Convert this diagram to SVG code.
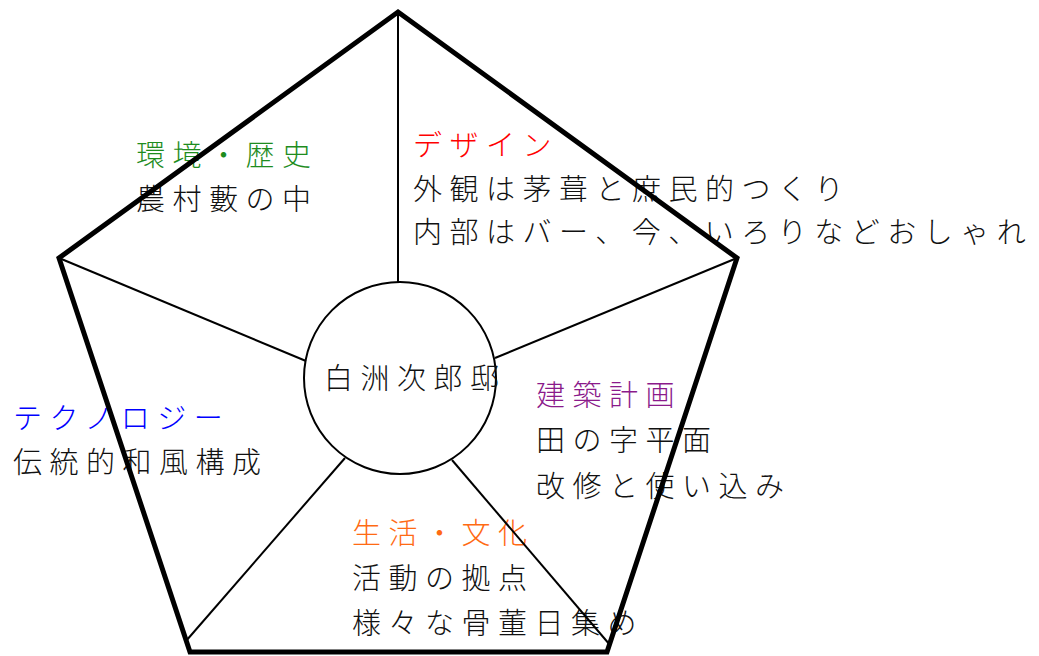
<svg xmlns="http://www.w3.org/2000/svg" width="1039" height="656" viewBox="0 0 1039 656">
<style>
text{font-family:"Noto Sans CJK JP","Noto Sans CJK SC",sans-serif;font-size:29px;font-weight:300;letter-spacing:7.5px;fill:#111}
.thick{fill:none;stroke:#000;stroke-width:5;stroke-linejoin:miter}
.thin{fill:none;stroke:#000;stroke-width:2}
.g{fill:#1e8c1e}.r{fill:#ff0000}.b{fill:#0000ff}.p{fill:#8b1a8b}.o{fill:#ff6a13}
</style>
<rect width="1039" height="656" fill="#fff"/>
<g id="node-center">
<circle cx="400" cy="378" r="96" fill="#fff" stroke="#000" stroke-width="2"/>
<text x="324" y="389">白洲次郎邸</text>
</g>
<g id="node-env">
<text class="g" x="136" y="166">環境・歴史</text>
<text x="136" y="210">農村藪の中</text>
</g>
<g id="node-design">
<text class="r" x="413" y="156">デザイン</text>
<text x="413" y="200">外観は茅葺と庶民的つくり</text>
<text x="413" y="243">内部はバー、今、いろりなどおしゃれ</text>
</g>
<g id="node-tech">
<text class="b" x="13" y="429">テクノロジー</text>
<text x="13" y="473">伝統的和風構成</text>
</g>
<g id="node-arch">
<text class="p" x="536" y="406">建築計画</text>
<text x="536" y="451">田の字平面</text>
<text x="536" y="497">改修と使い込み</text>
</g>
<g id="node-life">
<text class="o" x="352" y="544">生活・文化</text>
<text x="352" y="589">活動の拠点</text>
<text x="352" y="634">様々な骨董日集め</text>
</g>
<g id="connectors">
<line class="thin" x1="398" y1="12" x2="398" y2="282"/>
<line class="thin" x1="59" y1="258" x2="306" y2="361"/>
<line class="thin" x1="737" y1="258" x2="495" y2="358"/>
<line class="thin" x1="345" y1="458" x2="186" y2="641"/>
<line class="thin" x1="452" y1="460" x2="610" y2="645"/>
<polygon class="thick" points="398,12 737,258 607,652 190,652 59,258"/>
</g>
</svg>
